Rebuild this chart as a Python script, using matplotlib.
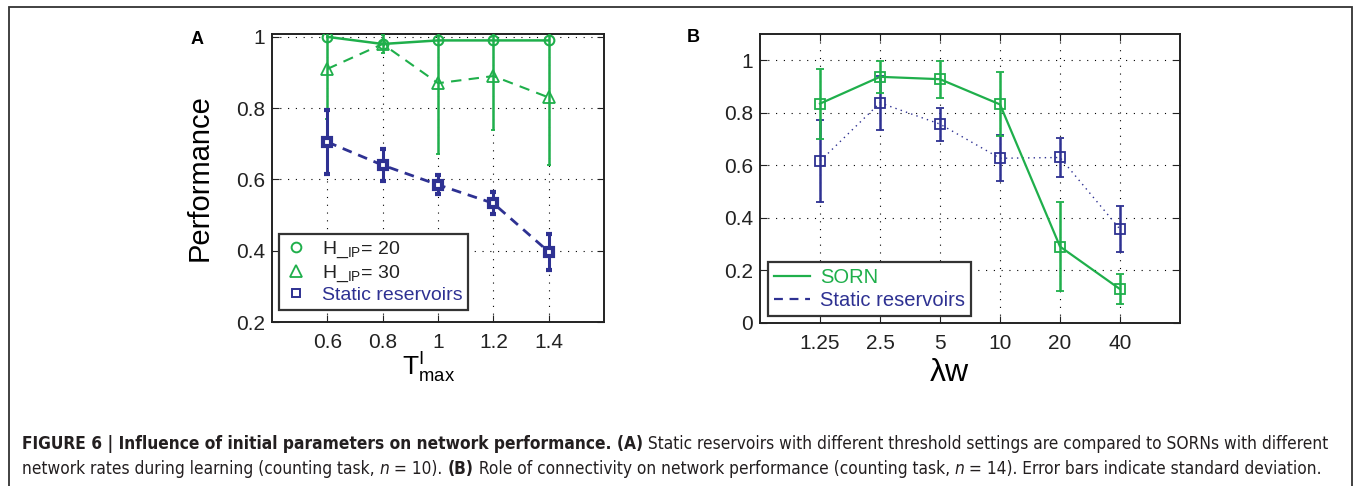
"""Figure 6: SORN vs static reservoirs, two panels plus caption."""

import matplotlib

matplotlib.use("Agg")
import matplotlib.pyplot as plt  # noqa: E402
from matplotlib.lines import Line2D  # noqa: E402
from matplotlib.patches import Rectangle  # noqa: E402

plt.rcParams.update({
    "font.family": ["Liberation Sans", "DejaVu Sans"],
    "mathtext.fontset": "custom", "mathtext.rm": "Liberation Sans",
    "mathtext.it": "Liberation Sans:italic", "mathtext.bf": "Liberation Sans:bold",
})
GREEN, BLUE, INK = "#1faf4b", "#2e3192", "#231f20"
CAP_FONT = ["DejaVu Sans"]
W, H = 1355, 486

# panel A: threshold T^I_max
T_MAX = [0.6, 0.8, 1.0, 1.2, 1.4]
T_LABELS = ["0.6", "0.8", "1", "1.2", "1.4"]
HIP20 = [1.00, 0.98, 0.99, 0.99, 0.99]
HIP30 = [0.91, 0.98, 0.87, 0.89, 0.83]
HIP30_SD = [0.14, 0.025, 0.20, 0.15, 0.19]
STATIC_A = [0.705, 0.64, 0.585, 0.533, 0.397]
STATIC_A_SD = [0.09, 0.044, 0.027, 0.031, 0.05]
A_YTICKS = [0.2, 0.4, 0.6, 0.8, 1.0]
A_YLABELS = ["0.2", "0.4", "0.6", "0.8", "1"]

# panel B: connectivity lambda_W
LAMBDA_W = ["1.25", "2.5", "5", "10", "20", "40"]
SORN = [0.835, 0.937, 0.928, 0.832, 0.291, 0.129]
SORN_SD = [0.133, 0.06, 0.07, 0.122, 0.17, 0.058]
STATIC_B = [0.616, 0.838, 0.757, 0.627, 0.630, 0.357]
STATIC_B_SD = [0.156, 0.104, 0.063, 0.088, 0.076, 0.087]
B_YTICKS = [0, 0.2, 0.4, 0.6, 0.8, 1.0]
B_YLABELS = ["0", "0.2", "0.4", "0.6", "0.8", "1"]

CAP1 = [("FIGURE 6 | Influence of initial parameters on network performance. (A)", "bold", "normal"),
        (" Static reservoirs with different threshold settings are compared to SORNs with different",
         "normal", "normal")]
CAP2 = [("network rates during learning (counting task, ", "normal", "normal"),
        ("n", "normal", "italic"), (" = 10). ", "normal", "normal"), ("(B)", "bold", "normal"),
        (" Role of connectivity on network performance (counting task, ", "normal", "normal"),
        ("n", "normal", "italic"),
        (" = 14). Error bars indicate standard deviation.", "normal", "normal")]


def matlab_axes(ax):
    ax.tick_params(direction="in", length=5, width=0.8, top=True, right=True, labelsize=15,
                   colors="#222")
    ax.tick_params(axis="x", pad=8)
    ax.tick_params(axis="y", pad=5)
    for s in ax.spines.values():
        s.set_linewidth(1.4)
        s.set_color("#222")
    ax.grid(True, color="k", linestyle=(0, (1, 6)), linewidth=0.8)
    ax.set_axisbelow(True)


def legend_box(leg):
    fr = leg.get_frame()
    fr.set_edgecolor("#333")
    fr.set_linewidth(1.6)


fig = plt.figure(figsize=(W / 100, H / 100), dpi=100)

# ---- panel A
axA = fig.add_axes([272 / W, 164 / H, 332 / W, 288 / H])
matlab_axes(axA)
axA.plot(T_MAX, HIP20, "-o", color=GREEN, mfc="none", ms=7, mew=1.5, lw=1.8, zorder=4)
axA.errorbar(T_MAX, HIP30, yerr=HIP30_SD, color=GREEN, marker="^", mfc="none", ms=9, mew=1.3,
             ls=(0, (5, 3.5)), lw=1.5, elinewidth=1.8, capsize=1.5, zorder=3)
axA.errorbar(T_MAX, STATIC_A, yerr=STATIC_A_SD, color=BLUE, marker="s", mfc="white", ms=6, mew=3.0,
             ls=(0, (3.5, 2.5)), lw=2.0, elinewidth=2.2, capsize=2.5, capthick=2, zorder=5)
axA.set_xlim(0.4, 1.6)
axA.set_ylim(0.2, 1.008)
axA.set_xticks(T_MAX, T_LABELS)
axA.set_yticks(A_YTICKS, A_YLABELS)
axA.set_ylabel("Performance", fontsize=21)
axA.yaxis.set_label_coords(-0.175, 0.5)
axA.set_xlabel(r"$\mathregular{T^{I}_{max}}$", fontsize=19)
axA.xaxis.set_label_coords(0.47, -0.1)
hA = [Line2D([], [], ls="none", marker="o", mfc="none", mec=GREEN, ms=7, mew=1.4),
      Line2D([], [], ls="none", marker="^", mfc="none", mec=GREEN, ms=9, mew=1.3),
      Line2D([], [], ls="none", marker="s", mfc="none", mec=BLUE, ms=6, mew=1.4)]
legA = axA.legend(hA, [r"H_$_{\mathregular{IP}}$= 20", r"H_$_{\mathregular{IP}}$= 30",
                       "Static reservoirs"],
                  loc="lower left", bbox_to_anchor=(0.021, 0.042), borderaxespad=0,
                  fancybox=False, framealpha=1, fontsize=14, handlelength=1.2,
                  handletextpad=0.7, labelspacing=0.15, borderpad=0.3,
                  labelcolor=["#222", "#222", BLUE])
legend_box(legA)

# ---- panel B
axB = fig.add_axes([760 / W, 163 / H, 420 / W, 289 / H])
matlab_axes(axB)
xB = range(1, len(LAMBDA_W) + 1)
axB.errorbar(xB, STATIC_B, yerr=STATIC_B_SD, color=BLUE, marker="s", mfc="none", ms=6.5, mew=1.3,
             ls=(0, (1, 3)), lw=1.0, elinewidth=1.8, capsize=3, capthick=1.4, zorder=3)
axB.errorbar(xB, SORN, yerr=SORN_SD, color=GREEN, marker="s", mfc="none", ms=6.5, mew=1.3,
             ls="-", lw=1.6, elinewidth=1.8, capsize=3, capthick=1.4, zorder=4)
axB.set_xlim(0, len(LAMBDA_W) + 1)
axB.set_ylim(0, 1.1)
axB.set_xticks(list(xB), LAMBDA_W)
axB.set_yticks(B_YTICKS, B_YLABELS)
axB.set_xlabel("λw", fontsize=23)
axB.xaxis.set_label_coords(0.45, -0.12)
hB = [Line2D([], [], color=GREEN, lw=1.6),
      Line2D([], [], color=BLUE, lw=1.6, ls=(0, (4, 3)))]
legB = axB.legend(hB, ["SORN", "Static reservoirs"], loc="lower left",
                  bbox_to_anchor=(0.019, 0.024), borderaxespad=0, fancybox=False, framealpha=1,
                  fontsize=14.5, handlelength=1.8, handletextpad=0.5, labelspacing=0.2,
                  borderpad=0.3, labelcolor=[GREEN, BLUE])
legend_box(legB)

fig.text(197 / W, 1 - 40 / H, "A", fontsize=13, fontweight="bold", ha="center", va="center")
fig.text(693 / W, 1 - 37 / H, "B", fontsize=13, fontweight="bold", ha="center", va="center")

# frame around the whole figure
fig.add_artist(Rectangle((9 / W, -0.05), (1352 - 9) / W, 1 - 7 / H + 0.05,
                         transform=fig.transFigure, fill=False, lw=1.3, ec="#333"))

# ---- caption, laid out piece by piece (condensed face if present)
rend = fig.canvas.get_renderer()
CAP_KW = dict(family=CAP_FONT, fontstretch="condensed")


def piece_width(s, w, st, size):
    t = fig.text(0, 0, "|" + s + "|", fontsize=size, fontweight=w, fontstyle=st, **CAP_KW)
    t0 = fig.text(0, 0, "||", fontsize=size, fontweight=w, fontstyle=st, **CAP_KW)
    dw = t.get_window_extent(rend).width - t0.get_window_extent(rend).width
    t.remove()
    t0.remove()
    return dw


def caption_line(pieces, y, size):
    x = 22
    for s, w, st in pieces:
        fig.text(x / W, y, s, fontsize=size, fontweight=w, fontstyle=st, color=INK,
                 va="baseline", **CAP_KW)
        x += piece_width(s, w, st, size)


base = 12
wide = sum(piece_width(s, w, st, base) for s, w, st in CAP1)
cap_size = base * (1333 - 22) / wide
caption_line(CAP1, 1 - 449 / H, cap_size)
caption_line(CAP2, 1 - 474 / H, cap_size)

fig.savefig("out.png", dpi=100)
